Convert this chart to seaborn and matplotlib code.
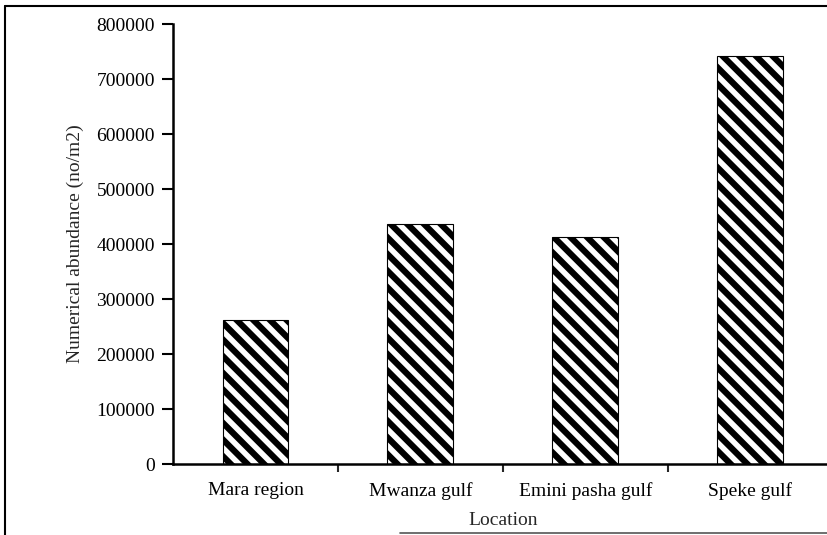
import matplotlib
matplotlib.use("Agg")
import matplotlib.pyplot as plt
import seaborn as sns
import pandas as pd
from matplotlib.lines import Line2D

## values
locations = ['Mara region', 'Mwanza gulf', 'Emini pasha gulf', 'Speke gulf']
abundance = [262000, 436000, 413000, 742000]
yticks = [0, 100000, 200000, 300000, 400000, 500000, 600000, 700000, 800000]

df = pd.DataFrame({'location': locations, 'abundance': abundance})

sns.set_style('white')
plt.rcParams['font.family'] = ['Liberation Serif', 'DejaVu Serif']
plt.rcParams['hatch.linewidth'] = 4.5
plt.rcParams['hatch.color'] = 'black'

fig = plt.figure(figsize=(8.27, 5.35), dpi=100)
ax = fig.add_axes([0.2092, 0.1327, 0.798, 0.8224])

sns.barplot(data=df, x='location', y='abundance', color='white', width=0.4,
            edgecolor='black', linewidth=0.8, hatch='\\\\', saturation=1, ax=ax)

ax.set_xlim(-0.5, 3.5)
ax.set_ylim(0, 800000)
ax.set_yticks(yticks)
ax.set_yticklabels([str(v) for v in yticks])
ax.set_xticks(range(len(locations)))
ax.set_xticklabels(locations)
ax.set_xticks([0.5, 1.5, 2.5], minor=True)
ax.tick_params(axis='x', which='major', length=0, pad=13, labelsize=14, colors='black')
ax.tick_params(axis='x', which='minor', length=6, width=1.5, direction='out', bottom=True)
ax.tick_params(axis='y', length=8, width=1.5, direction='out', left=True, pad=5,
               labelsize=14, colors='black')

for s in ['top', 'right']:
    ax.spines[s].set_visible(False)
for s in ['left', 'bottom']:
    ax.spines[s].set_linewidth(1.8)
    ax.spines[s].set_color('black')

ax.set_ylabel('Numerical abundance (no/m2)', fontsize=14, labelpad=9)
ax.set_xlabel('Location', fontsize=14, labelpad=9)

# outer frame as in the scanned figure
fig.add_artist(Line2D([0.006, 1.0], [0.989, 0.989], color='black', lw=1.5, transform=fig.transFigure))
fig.add_artist(Line2D([0.006, 0.006], [0.0, 0.989], color='black', lw=1.5, transform=fig.transFigure))
fig.add_artist(Line2D([0.484, 1.0], [0.004, 0.004], color='#555555', lw=1.2, transform=fig.transFigure))

fig.savefig('out.png', dpi=100)
